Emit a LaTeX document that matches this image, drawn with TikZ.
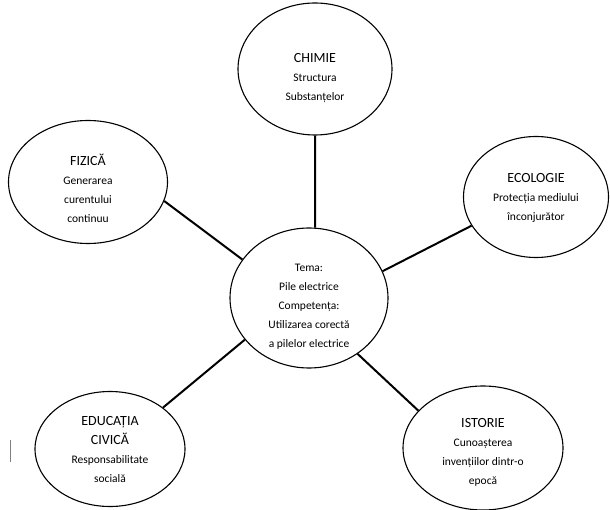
\documentclass[tikz,border=0pt]{standalone}
\usepackage{fontspec}
\setmainfont{Carlito}
\usetikzlibrary{shapes.geometric}
\newcommand{\subj}[1]{{\fontsize{14}{19}\selectfont #1}}
\tikzset{
  bubble/.style={draw,ellipse,line width=1.1pt,inner sep=0pt},
  txt/.style={align=center,inner sep=0pt,font=\fontsize{11.5}{19}\selectfont},
  link/.style={line width=2pt}
}
\begin{document}
\begin{tikzpicture}[x=1pt,y=-1pt]
  \useasboundingbox (0,0) rectangle (610,510);
  \node[bubble,minimum width=158pt,minimum height=140pt,
    label={[txt,yshift=-9pt]center:Tema:\\Pile electrice\\Competența:\\Utilizarea corectă\\a pilelor electrice}]
    (tema) at (309,298) {};
  \node[bubble,minimum width=154pt,minimum height=132pt,
    label={[txt,yshift=-9pt]center:\subj{CHIMIE}\\Structura\\Substanțelor}]
    (chimie) at (315,69) {};
  \node[bubble,minimum width=159pt,minimum height=123pt,
    label={[txt,yshift=-6pt]center:\subj{FIZICĂ}\\Generarea\\curentului\\continuu}]
    (fizica) at (88,182) {};
  \node[bubble,minimum width=145pt,minimum height=121pt,
    label={[txt,yshift=-1pt]center:\subj{ECOLOGIE}\\Protecția mediului\\înconjurător}]
    (ecologie) at (536,197) {};
  \node[bubble,minimum width=150pt,minimum height=115pt,
    label={[txt]center:\subj{EDUCAȚIA}\\\subj{CIVICĂ}\\Responsabilitate\\socială}]
    (civica) at (110,449) {};
  \node[bubble,minimum width=160pt,minimum height=124pt,
    label={[txt,yshift=-4pt]center:\subj{ISTORIE}\\Cunoașterea\\invențiilor dintr-o\\epocă}]
    (istorie) at (483,448) {};
  \draw[link] (chimie.-90) -- (tema.85);
  \draw[link] (fizica.-14) -- (tema.150);
  \draw[link] (ecologie.-156) -- (tema.20);
  \draw[link] (civica.38) -- (tema.-147);
  \draw[link] (istorie.150) -- (tema.-49);
  \draw[gray,line width=0.8pt] (10,440) -- (10,462);
\end{tikzpicture}
\end{document}
